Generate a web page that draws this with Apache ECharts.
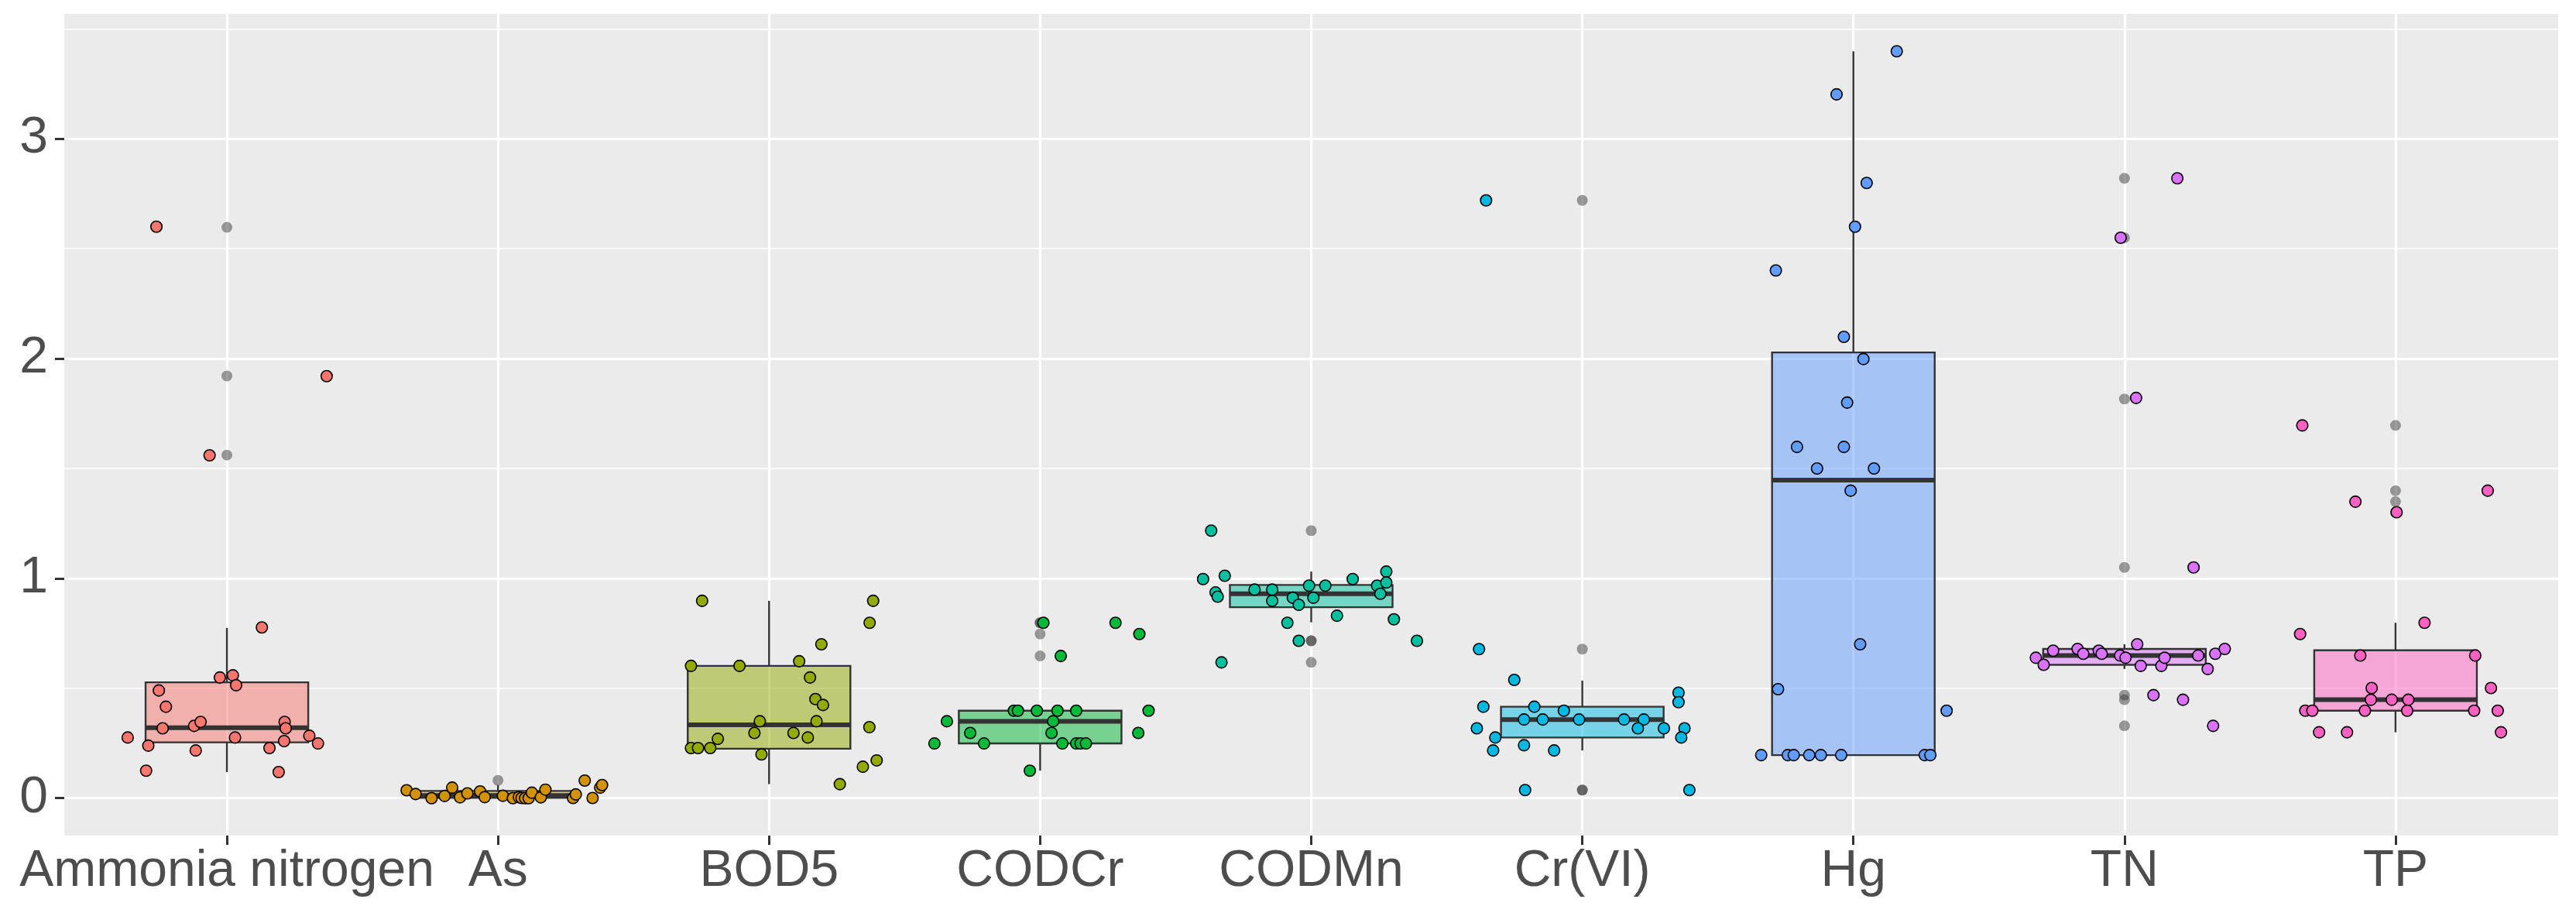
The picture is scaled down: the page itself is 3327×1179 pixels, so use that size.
<!DOCTYPE html>
<html><head><meta charset="utf-8">
<script src="https://cdn.jsdelivr.net/npm/echarts@6/dist/echarts.min.js"></script>
<style>html,body{margin:0;padding:0;background:#fff}#c{width:3327px;height:1179px}</style>
</head><body><div id="c"></div>
<script>
const categories = ['Ammonia nitrogen','As','BOD5','CODCr','CODMn','Cr(VI)','Hg','TN','TP'];
const palette = ['#F8766D','#D39200','#93AA00','#00BA38','#00C19F','#00B9E3','#619CFF','#DB72FB','#FF61C3'];
const yTicks = [0, 1, 2, 3];
const yMinorTicks = [0.5, 1.5, 2.5, 3.5];

// box statistics per category
const whiskerLow  = [0.119, 0.0,   0.064, 0.125, 0.80,  0.217, 0.196, 0.588, 0.30];
const q1          = [0.254, 0.002, 0.225, 0.249, 0.869, 0.276, 0.196, 0.607, 0.398];
const median      = [0.321, 0.012, 0.334, 0.35,  0.93,  0.358, 1.447, 0.649, 0.448];
const q3          = [0.527, 0.033, 0.602, 0.398, 0.97,  0.416, 2.028, 0.679, 0.673];
const whiskerHigh = [0.774, 0.06,  0.898, 0.398, 1.031, 0.535, 3.398, 0.70,  0.798];

// boxplot outliers per category
const outliers = [
  [2.597, 1.921, 1.561],
  [0.081],
  [],
  [0.798, 0.798, 0.747, 0.647],
  [1.217, 0.716, 0.716, 0.618],
  [2.72, 0.678, 0.037, 0.037],
  [],
  [2.82, 2.55, 1.816, 1.05, 0.469, 0.448, 0.329],
  [1.696, 1.399, 1.349, 1.301]
];

// jittered points: [horizontal jitter, value]
const ammoniaPts = [[-0.26,2.60],[0.368,1.92],[-0.064,1.56],[0.129,0.777],[-0.026,0.549],[0.022,0.559],[0.034,0.514],[-0.251,0.49],[-0.225,0.416],[-0.237,0.318],[-0.121,0.329],[-0.097,0.347],[0.213,0.347],[0.217,0.318],[-0.366,0.276],[-0.29,0.239],[-0.115,0.217],[0.03,0.276],[0.157,0.228],[0.211,0.26],[0.304,0.284],[0.336,0.249],[-0.298,0.125],[0.191,0.119]];
const asPts = [[-0.337,0.036],[-0.304,0.019],[-0.245,0.0],[-0.197,0.01],[-0.169,0.048],[-0.14,0.004],[-0.113,0.022],[-0.066,0.031],[-0.049,0.005],[0.018,0.011],[0.055,0.0],[0.077,0.005],[0.087,0.001],[0.1,0.0],[0.113,0.0],[0.125,0.025],[0.158,0.004],[0.175,0.039],[0.277,0.001],[0.287,0.017],[0.32,0.08],[0.349,0.001],[0.377,0.048],[0.384,0.06]];
const bod5Pts = [[-0.247,0.898],[-0.288,0.602],[-0.109,0.602],[0.111,0.623],[0.193,0.70],[0.151,0.549],[0.171,0.451],[0.199,0.424],[0.175,0.35],[-0.034,0.35],[-0.054,0.297],[0.09,0.297],[0.143,0.276],[-0.189,0.27],[-0.288,0.228],[-0.262,0.228],[-0.217,0.228],[-0.028,0.199],[0.261,0.064],[0.384,0.898],[0.371,0.798],[0.37,0.323],[0.346,0.143],[0.397,0.172]];
const codcrPts = [[-0.097,0.398],[-0.082,0.398],[-0.012,0.398],[0.064,0.398],[0.133,0.398],[0.4,0.398],[-0.344,0.35],[0.048,0.35],[0.042,0.297],[-0.258,0.297],[0.362,0.297],[-0.39,0.249],[-0.207,0.249],[0.082,0.249],[0.133,0.249],[0.149,0.249],[0.169,0.249],[-0.038,0.125],[0.012,0.798],[0.278,0.798],[0.366,0.747],[0.076,0.647]];
const codmnPts = [[-0.369,1.217],[-0.399,0.997],[-0.319,1.012],[-0.353,0.936],[-0.345,0.917],[-0.209,0.949],[-0.144,0.949],[-0.144,0.898],[-0.068,0.912],[-0.046,0.88],[-0.008,0.967],[0.008,0.912],[0.052,0.967],[0.153,0.997],[0.243,0.967],[0.277,1.031],[0.277,0.981],[0.255,0.93],[0.095,0.83],[0.305,0.814],[-0.088,0.798],[-0.046,0.716],[0.39,0.716],[-0.331,0.618]];
const crPts = [[-0.355,2.72],[-0.381,0.678],[-0.251,0.538],[-0.365,0.416],[-0.177,0.416],[-0.068,0.398],[-0.215,0.358],[-0.146,0.358],[-0.012,0.358],[0.154,0.358],[0.227,0.358],[0.205,0.318],[0.301,0.318],[0.377,0.318],[-0.389,0.318],[-0.321,0.276],[0.365,0.276],[-0.329,0.217],[-0.215,0.241],[-0.104,0.217],[0.355,0.48],[0.355,0.437],[-0.211,0.037],[0.395,0.037]];
const hgPts = [[0.16,3.398],[-0.062,3.202],[0.049,2.799],[0.006,2.60],[-0.286,2.401],[-0.035,2.099],[0.037,1.998],[-0.023,1.80],[-0.208,1.598],[-0.035,1.598],[-0.134,1.50],[0.076,1.50],[-0.01,1.399],[0.025,0.70],[-0.278,0.496],[0.344,0.398],[-0.34,0.196],[-0.242,0.196],[-0.22,0.196],[-0.163,0.196],[-0.12,0.196],[-0.045,0.196],[0.263,0.196],[0.284,0.196]];
const tnPts = [[0.195,2.82],[-0.014,2.55],[0.043,1.821],[0.255,1.05],[0.107,0.469],[0.216,0.448],[0.327,0.329],[-0.327,0.639],[-0.298,0.607],[-0.263,0.671],[-0.173,0.679],[-0.152,0.657],[-0.095,0.671],[-0.084,0.657],[-0.016,0.649],[0.004,0.639],[0.047,0.70],[0.06,0.602],[0.136,0.602],[0.148,0.639],[0.272,0.649],[0.307,0.588],[0.335,0.657],[0.37,0.679]];
const tpPts = [[-0.344,1.696],[-0.148,1.349],[0.004,1.301],[0.34,1.399],[0.107,0.798],[-0.352,0.747],[-0.13,0.649],[0.294,0.649],[-0.088,0.501],[0.352,0.501],[-0.091,0.448],[-0.014,0.448],[0.047,0.448],[-0.333,0.398],[-0.307,0.398],[-0.113,0.398],[0.043,0.398],[0.29,0.398],[0.377,0.398],[-0.282,0.30],[-0.179,0.30],[0.389,0.30]];
const jitterPts = [ammoniaPts, asPts, bod5Pts, codcrPts, codmnPts, crPts, hgPts, tnPts, tpPts];

function rgba(hex, a) {
  const n = parseInt(hex.slice(1), 16);
  return 'rgba(' + ((n >> 16) & 255) + ',' + ((n >> 8) & 255) + ',' + (n & 255) + ',' + a + ')';
}

const FONT = 'Liberation Sans';
const boxData = categories.map((c, i) => [i, whiskerLow[i], q1[i], median[i], q3[i], whiskerHigh[i]]);
const outlierData = [];
outliers.forEach((arr, i) => arr.forEach(v => outlierData.push([i, v])));

const series = [{
  type: 'custom',
  z: 2,
  silent: true,
  encode: { x: 0, y: [1, 2, 3, 4, 5] },
  data: boxData,
  renderItem: function (params, api) {
    const i = api.value(0);
    const lo = api.value(1), a = api.value(2), md = api.value(3), b = api.value(4), hi = api.value(5);
    const half = 0.3;
    const tl = api.coord([i - half, b]);
    const br = api.coord([i + half, a]);
    const mL = api.coord([i - half, md]);
    const mR = api.coord([i + half, md]);
    const pHi = api.coord([i, hi]), pB = api.coord([i, b]), pA = api.coord([i, a]), pLo = api.coord([i, lo]);
    const col = palette[params.dataIndex];
    return {
      type: 'group',
      children: [
        { type: 'line', shape: { x1: pHi[0], y1: pHi[1], x2: pB[0], y2: pB[1] }, style: { stroke: '#333333', lineWidth: 2.4 } },
        { type: 'line', shape: { x1: pA[0], y1: pA[1], x2: pLo[0], y2: pLo[1] }, style: { stroke: '#333333', lineWidth: 2.4 } },
        { type: 'rect', shape: { x: tl[0], y: tl[1], width: br[0] - tl[0], height: br[1] - tl[1] }, style: { fill: rgba(col, 0.5), stroke: '#333333', lineWidth: 2.4 } },
        { type: 'line', shape: { x1: mL[0], y1: mL[1], x2: mR[0], y2: mR[1] }, style: { stroke: '#333333', lineWidth: 6 } }
      ]
    };
  }
}, {
  type: 'scatter',
  z: 3,
  silent: true,
  symbolSize: 14,
  data: outlierData,
  itemStyle: { color: 'rgba(51,51,51,0.6)', borderWidth: 0 }
}];

jitterPts.forEach((pts, i) => {
  series.push({
    type: 'scatter',
    z: 4,
    silent: true,
    symbolSize: 14.5,
    data: pts.map(p => [i + p[0], p[1]]),
    itemStyle: { color: palette[i], borderColor: '#000000', borderWidth: 1.6, opacity: 1 }
  });
});

const chart = echarts.init(document.getElementById('c'));
chart.setOption({
  animation: false,
  backgroundColor: '#ffffff',
  grid: {
    left: 83, right: 23, top: 18, bottom: 100,
    show: true, backgroundColor: '#EBEBEB', borderWidth: 0,
    outerBoundsMode: 'none'
  },
  xAxis: {
    type: 'value', min: -0.6, max: 8.6,
    axisLine: { show: true, onZero: false, lineStyle: { color: 'rgba(255,255,255,0)', width: 1 } },
    axisTick: { show: true, customValues: categories.map((c, i) => i), length: 12, lineStyle: { color: '#333333', width: 3 } },
    axisLabel: {
      customValues: categories.map((c, i) => i),
      formatter: v => categories[Math.round(v)],
      fontFamily: FONT, fontSize: 66, color: '#4D4D4D', margin: 14, hideOverlap: false
    },
    splitLine: { show: true, lineStyle: { color: '#FFFFFF', width: 3.2 } }
  },
  yAxis: [{
    type: 'value', min: -0.17, max: 3.568,
    axisLine: { show: true, onZero: false, lineStyle: { color: 'rgba(255,255,255,0)', width: 1 } },
    axisTick: { show: true, customValues: yTicks, length: 12, lineStyle: { color: '#333333', width: 3 } },
    axisLabel: { customValues: yTicks, fontFamily: FONT, fontSize: 66, color: '#4D4D4D', margin: 21 },
    splitLine: { show: true, lineStyle: { color: '#FFFFFF', width: 3.2 } }
  }, {
    type: 'value', min: -0.17, max: 3.568, position: 'left',
    axisLine: { show: false, onZero: false },
    axisTick: { show: false, customValues: yMinorTicks },
    axisLabel: { show: false, customValues: yMinorTicks },
    splitLine: { show: true, lineStyle: { color: '#FFFFFF', width: 1.6 } }
  }],
  series: series
});
</script>
</body></html>
